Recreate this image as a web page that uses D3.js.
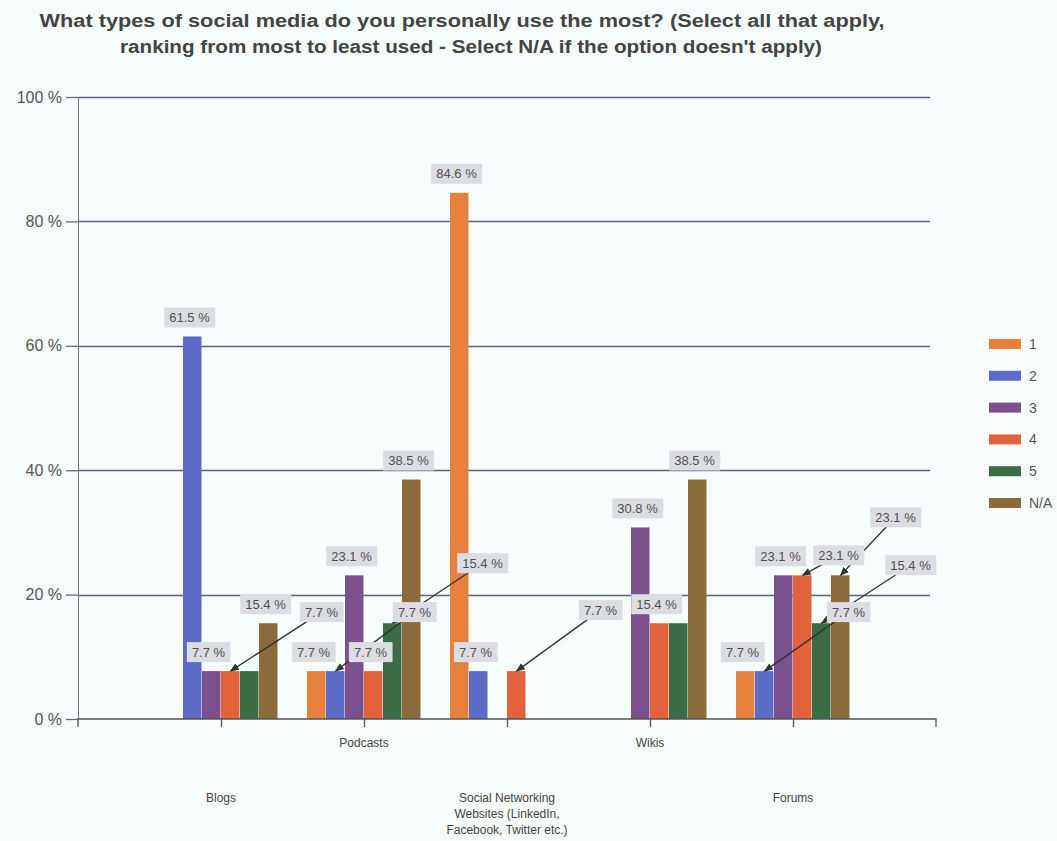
<!DOCTYPE html>
<html>
<head>
<meta charset="utf-8">
<script src="https://cdn.jsdelivr.net/npm/d3@7"></script>
<style>
  html, body { margin: 0; padding: 0; background: #f7fcfd; }
  svg { display: block; font-family: "Liberation Sans", Arial, sans-serif; }
</style>
</head>
<body>
<svg id="chart" width="1057" height="841"></svg>
<script>
// ---------- data ----------
const titleLines = [
  "What types of social media do you personally use the most? (Select all that apply,",
  "ranking from most to least used - Select N/A if the option doesn't apply)"
];
const categories = ["Blogs", "Podcasts", "Social Networking Websites (LinkedIn, Facebook, Twitter etc.)", "Wikis", "Forums"];
const categoryLabelLines = [
  ["Blogs"],
  ["Podcasts"],
  ["Social Networking", "Websites (LinkedIn,", "Facebook, Twitter etc.)"],
  ["Wikis"],
  ["Forums"]
];
const seriesNames = ["1", "2", "3", "4", "5", "N/A"];
const s1  = [0,    7.7,  84.6, 0,    7.7];
const s2  = [61.5, 7.7,  7.7,  0,    7.7];
const s3  = [7.7,  23.1, 0,    30.8, 23.1];
const s4  = [7.7,  7.7,  7.7,  15.4, 23.1];
const s5  = [7.7,  15.4, 0,    15.4, 15.4];
const sNA = [15.4, 38.5, 0,    38.5, 23.1];
const seriesValues = [s1, s2, s3, s4, s5, sNA];
const yTicks = [0, 20, 40, 60, 80, 100];

// ---------- styles / layout ----------
const colors = ["#e5803d", "#5b6bc6", "#7c4f8e", "#e2623b", "#3b6c46", "#8b6a3c"];
const W = 1057, H = 841;
const plot = { left: 78, right: 936, top: 97, bottom: 719 };
const titleLayout = [{ cx: 462, y: 27, w: 845 }, { cx: 471, y: 53, w: 702 }];

// label placement tweaks (offset of the label from the bar top, px), keyed "catIndex-seriesIndex"
const labelMoves = {
  "0-3": [91, -59], "1-1": [79, -59], "1-4": [90, -60], "2-3": [84, -61],
  "4-1": [84, -59], "4-3": [36, -20], "4-4": [89, -58], "4-5": [55, -58]
};
const hiddenLabels = new Set(["0-4", "3-4"]);

const svg = d3.select("#chart");
svg.append("rect").attr("width", W).attr("height", H).attr("fill", "#f7fcfd");

// title
svg.append("g").selectAll("text").data(titleLines).join("text")
  .attr("x", (d, i) => titleLayout[i].cx).attr("y", (d, i) => titleLayout[i].y)
  .attr("text-anchor", "middle")
  .attr("textLength", (d, i) => titleLayout[i].w).attr("lengthAdjust", "spacingAndGlyphs")
  .attr("font-size", 18).attr("font-weight", "bold").attr("fill", "#444")
  .text(d => d);

const x = d3.scalePoint().domain(categories).range([plot.left, plot.right]).padding(1);
const barW = 19;
const xs = d3.scaleBand().domain(seriesNames).range([-3 * barW, 3 * barW]);
const y = d3.scaleLinear().domain([0, 100]).range([plot.bottom, plot.top]);

// gridlines + y labels
const yAxis = d3.axisLeft(y).tickValues(yTicks).tickFormat(d => d + " %").tickSize(12).tickPadding(4);
const gy = svg.append("g").attr("transform", `translate(${plot.left},0)`).call(yAxis);
gy.select(".domain").remove();
gy.selectAll(".tick line").attr("stroke", "#666a78").attr("stroke-width", 1.3);
gy.selectAll(".tick text").attr("font-size", 16).attr("fill", "#555")
  .attr("font-family", "Liberation Sans, Arial, sans-serif");
svg.append("g").selectAll("line").data(yTicks.filter(d => d > 0)).join("line")
  .attr("x1", plot.left).attr("x2", 930)
  .attr("y1", d => Math.round(y(d)) + 0.5).attr("y2", d => Math.round(y(d)) + 0.5)
  .attr("stroke", "#5e6478").attr("stroke-width", 1.3);
svg.append("line").attr("x1", plot.left + 0.5).attr("x2", plot.left + 0.5)
  .attr("y1", plot.top).attr("y2", plot.bottom).attr("stroke", "#777").attr("stroke-width", 1);

// bars
const flat = [];
categories.forEach((c, ci) => seriesNames.forEach((s, si) => {
  flat.push({ c, ci, s, si, v: seriesValues[si][ci] });
}));
svg.append("g").selectAll("rect").data(flat.filter(d => d.v > 0)).join("rect")
  .attr("x", d => x(d.c) + xs(d.s))
  .attr("y", d => y(d.v))
  .attr("width", xs.bandwidth() - 0.5)
  .attr("height", d => y(0) - y(d.v))
  .attr("fill", d => colors[d.si]);

// x axis
const xAxis = d3.axisBottom(x).tickFormat("").tickSize(8).tickSizeOuter(8);
const gx = svg.append("g").attr("transform", `translate(0,${plot.bottom})`).call(xAxis);
gx.selectAll("path, line").attr("stroke", "#555").attr("stroke-width", 1.3);
gx.select(".domain").attr("d", `M${plot.left},8V0H${plot.right}V8`);

const xl = svg.append("g").selectAll("text").data(categories).join("text")
  .attr("x", d => x(d))
  .attr("y", (d, i) => i % 2 === 0 ? 802 : 747)
  .attr("text-anchor", "middle").attr("font-size", 12).attr("fill", "#444");
xl.each(function (d, i) {
  d3.select(this).selectAll("tspan").data(categoryLabelLines[i]).join("tspan")
    .attr("x", x(d)).attr("dy", (t, j) => j === 0 ? 0 : 16).text(t => t);
});

// data labels
svg.append("defs").append("marker").attr("id", "arr")
  .attr("viewBox", "0 0 10 10").attr("refX", 9).attr("refY", 5)
  .attr("markerWidth", 7).attr("markerHeight", 7).attr("orient", "auto-start-reverse")
  .append("path").attr("d", "M0,1L10,5L0,9Z").attr("fill", "#333");

const labs = flat.filter(d => d.v > 0 && !hiddenLabels.has(d.ci + "-" + d.si)).map(d => {
  const bx = x(d.c) + xs(d.s) + xs.bandwidth() / 2;
  const by = y(d.v);
  const mv = labelMoves[d.ci + "-" + d.si];
  return {
    ...d, bx, by, moved: !!mv,
    lx: mv ? bx + mv[0] : bx - 3,
    ly: mv ? by + mv[1] : by - 19,
    text: d.v.toFixed(1) + " %"
  };
});

svg.append("g").selectAll("line").data(labs.filter(d => d.moved)).join("line")
  .attr("x1", d => d.lx).attr("y1", d => d.ly)
  .attr("x2", d => d.bx).attr("y2", d => d.by)
  .attr("stroke", "#333").attr("stroke-width", 1.3).attr("marker-end", "url(#arr)");

const lg = svg.append("g").selectAll("g").data(labs).join("g")
  .attr("transform", d => `translate(${d.lx},${d.ly})`);
lg.append("text").attr("class", "t").attr("text-anchor", "middle").attr("dy", "0.35em")
  .attr("font-size", 13).attr("fill", "#505050").text(d => d.text);
lg.each(function () {
  const g = d3.select(this);
  const bb = g.select("text").node().getBBox();
  g.insert("rect", "text").attr("x", bb.x - 5).attr("y", -10)
    .attr("width", bb.width + 10).attr("height", 20).attr("fill", "#dcdde2");
});

// legend
const leg = svg.append("g").selectAll("g").data(seriesNames).join("g")
  .attr("transform", (d, i) => `translate(989,${344 + i * 31.8})`);
leg.append("rect").attr("x", 0).attr("y", -5).attr("width", 32).attr("height", 10)
  .attr("fill", (d, i) => colors[i]);
leg.append("text").attr("x", 40).attr("dy", "0.35em").attr("font-size", 14)
  .attr("fill", "#555").text(d => d);
</script>
</body>
</html>
